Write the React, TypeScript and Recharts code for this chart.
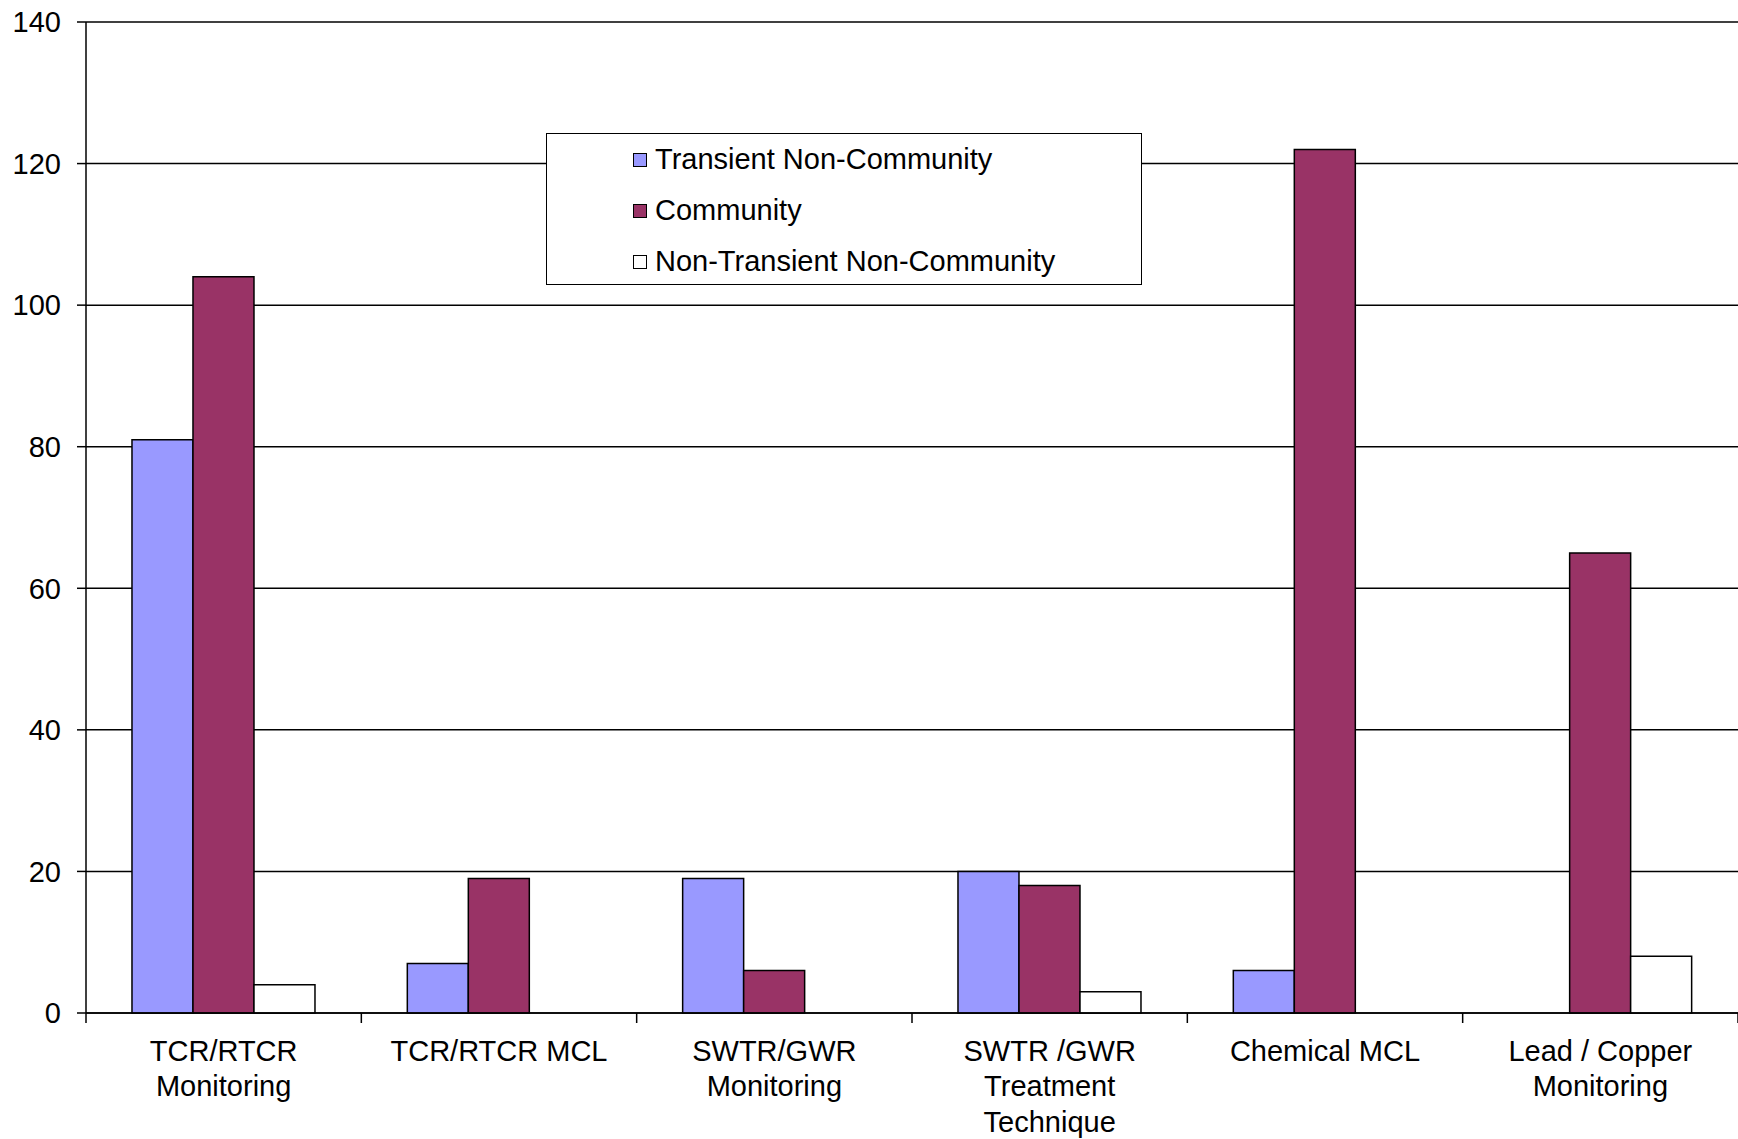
import { BarChart, Bar, XAxis, YAxis, CartesianGrid, Legend } from 'recharts';

const categories = [
  'TCR/RTCR\nMonitoring',
  'TCR/RTCR MCL',
  'SWTR/GWR\nMonitoring',
  'SWTR /GWR\nTreatment\nTechnique',
  'Chemical MCL',
  'Lead / Copper\nMonitoring',
];
const transientNonCommunity = [81, 7, 19, 20, 6, 0];
const community = [104, 19, 6, 18, 122, 65];
const nonTransientNonCommunity = [4, 0, 0, 3, 0, 8];
const seriesNames = ['Transient Non-Community', 'Community', 'Non-Transient Non-Community'];
const yTicks = [0, 20, 40, 60, 80, 100, 120, 140];

const data = categories.map((name, i) => ({
  name,
  tnc: transientNonCommunity[i],
  c: community[i],
  ntnc: nonTransientNonCommunity[i],
}));

const font = 'Liberation Sans, Arial, sans-serif';
const LABEL_GAP = 27;

// category label plus a tick mark at the left edge of each category band
function CategoryTick({ x, y, payload }: any) {
  const lines = String(payload.value).split('\n');
  const half = payload.offset || 0;
  const axisY = y - LABEL_GAP;
  return (
    <g>
      <line x1={x - half} x2={x - half} y1={axisY} y2={axisY + 10} stroke="#000" strokeWidth={1.5} />
      {payload.index === categories.length - 1 && (
        <line x1={x + half} x2={x + half} y1={axisY} y2={axisY + 10} stroke="#000" strokeWidth={1.5} />
      )}
      <text x={x} y={y} textAnchor="middle" fill="#000" fontSize={29} fontFamily={font}>
        {lines.map((l, i) => (
          <tspan key={i} x={x} dy={i === 0 ? '0.71em' : 35.5}>
            {l}
          </tspan>
        ))}
      </text>
    </g>
  );
}

function LegendBox({ payload }: any) {
  const items = [...(payload || [])].sort(
    (a: any, b: any) => seriesNames.indexOf(a.value) - seriesNames.indexOf(b.value)
  );
  return (
    <div
      style={{
        width: 596,
        height: 152,
        boxSizing: 'border-box',
        border: '1.5px solid #000',
        background: '#fff',
        paddingLeft: 86,
        paddingTop: 0,
        fontFamily: font,
        fontSize: 29,
        color: '#000',
      }}
    >
      {items.map((p: any) => (
        <div key={p.value} style={{ display: 'flex', alignItems: 'center', height: 51 }}>
          <span
            style={{
              display: 'inline-block',
              width: 12,
              height: 12,
              border: '1.5px solid #000',
              background: p.color,
              marginRight: 8,
            }}
          />
          <span>{p.value}</span>
        </div>
      ))}
    </div>
  );
}

export default function App() {
  return (
    <div style={{ position: 'absolute', left: 0, top: 0, width: 1738, height: 1139, background: '#fff' }}>
      <BarChart
        width={1738}
        height={1139}
        data={data}
        margin={{ top: 22, right: 0, left: 0, bottom: 0 }}
        barCategoryGap="16.7%"
        barGap={0}
      >
        <CartesianGrid vertical={false} stroke="#000" strokeWidth={1.5} />
        <XAxis
          dataKey="name"
          height={126}
          interval={0}
          axisLine={{ stroke: '#000', strokeWidth: 1.5 }}
          tickLine={false}
          tickSize={0}
          tickMargin={LABEL_GAP}
          tick={<CategoryTick />}
        />
        <YAxis
          width={86}
          domain={[0, 140]}
          ticks={yTicks}
          interval={0}
          axisLine={{ stroke: '#000', strokeWidth: 1.5 }}
          tickLine={{ stroke: '#000', strokeWidth: 1.5 }}
          tickSize={9}
          tickMargin={16}
          tick={{ fill: '#000', fontSize: 29, fontFamily: font }}
        />
        <Legend
          layout="vertical"
          align="center"
          verticalAlign="middle"
          content={<LegendBox />}
          wrapperStyle={{ left: 546, top: 133, width: 596, height: 152 }}
        />
        <Bar dataKey="tnc" name={seriesNames[0]} fill="#9999FF" stroke="#000" strokeWidth={1.5} isAnimationActive={false} />
        <Bar dataKey="c" name={seriesNames[1]} fill="#993366" stroke="#000" strokeWidth={1.5} isAnimationActive={false} />
        <Bar dataKey="ntnc" name={seriesNames[2]} fill="#FFFFFF" stroke="#000" strokeWidth={1.5} isAnimationActive={false} />
      </BarChart>
    </div>
  );
}
